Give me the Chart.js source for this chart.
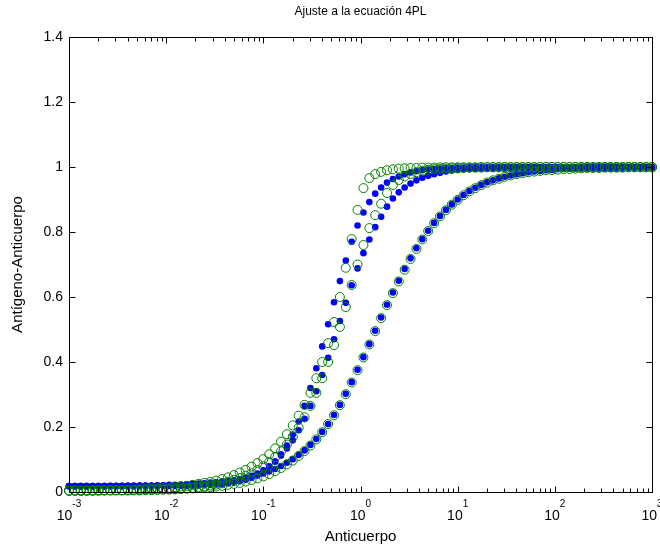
<!DOCTYPE html>
<html lang="es">
<head>
  <meta charset="UTF-8" />
  <title>Ajuste a la ecuación 4PL</title>
  <script src="https://cdn.jsdelivr.net/npm/chart.js@4.4.1/dist/chart.umd.min.js"></script>
  <style>
    html, body { margin: 0; padding: 0; background: #fff; }
    #grafico { display: block; }
  </style>
</head>
<body>
  <canvas id="grafico" width="660" height="546"></canvas>
  <script>
    // Anticuerpo (eje x, logarítmico)
    const anticuerpo = [
      0.001, 0.00115, 0.001322, 0.00152, 0.001748, 0.002009, 0.00231, 0.002656, 0.003054, 0.003511,
      0.004037, 0.004642, 0.005337, 0.006136, 0.007055, 0.008111, 0.009326, 0.01072, 0.01233, 0.01417,
      0.0163, 0.01874, 0.02154, 0.02477, 0.02848, 0.03275, 0.03765, 0.04329, 0.04977, 0.05722,
      0.06579, 0.07565, 0.08697, 0.1, 0.115, 0.1322, 0.152, 0.1748, 0.2009, 0.231,
      0.2656, 0.3054, 0.3511, 0.4037, 0.4642, 0.5337, 0.6136, 0.7055, 0.8111, 0.9326,
      1.072, 1.233, 1.417, 1.63, 1.874, 2.154, 2.477, 2.848, 3.275, 3.765,
      4.329, 4.977, 5.722, 6.579, 7.565, 8.697, 10, 11.5, 13.22, 15.2,
      17.48, 20.09, 23.1, 26.56, 30.54, 35.11, 40.37, 46.42, 53.37, 61.36,
      70.55, 81.11, 93.26, 107.2, 123.3, 141.7, 163, 187.4, 215.4, 247.7,
      284.8, 327.5, 376.5, 432.9, 497.7, 572.2, 657.9, 756.5, 869.7, 1000
    ];

    // datos (círculos verdes)
    const datosA = [
      0.004, 0.004, 0.004, 0.005, 0.005, 0.005, 0.005, 0.006, 0.006, 0.006,
      0.007, 0.007, 0.008, 0.009, 0.010, 0.011, 0.012, 0.013, 0.015, 0.017,
      0.019, 0.022, 0.025, 0.028, 0.031, 0.035, 0.040, 0.045, 0.052, 0.060,
      0.068, 0.078, 0.089, 0.101, 0.116, 0.134, 0.155, 0.178, 0.205, 0.235,
      0.268, 0.305, 0.350, 0.400, 0.458, 0.523, 0.600, 0.690, 0.778, 0.868,
      0.935, 0.966, 0.978, 0.985, 0.990, 0.993, 0.995, 0.996, 0.997, 0.997,
      0.998, 0.998, 0.998, 0.999, 0.999, 0.999, 0.999, 0.999, 0.999, 0.999,
      1.000, 1.000, 1.000, 1.000, 1.000, 1.000, 1.000, 1.000, 1.000, 1.000,
      1.000, 1.000, 1.000, 1.000, 1.000, 1.000, 1.000, 1.000, 1.000, 1.000,
      1.000, 1.000, 1.000, 1.000, 1.000, 1.000, 1.000, 1.000, 1.000, 1.000
    ];
    const datosB = [
      0.004, 0.004, 0.004, 0.004, 0.004, 0.005, 0.005, 0.005, 0.005, 0.005,
      0.005, 0.006, 0.006, 0.006, 0.007, 0.007, 0.008, 0.008, 0.009, 0.010,
      0.012, 0.013, 0.015, 0.017, 0.020, 0.023, 0.027, 0.032, 0.037, 0.043,
      0.050, 0.058, 0.068, 0.079, 0.092, 0.107, 0.125, 0.146, 0.170, 0.198,
      0.230, 0.265, 0.305, 0.350, 0.400, 0.452, 0.508, 0.569, 0.637, 0.700,
      0.760, 0.812, 0.852, 0.887, 0.920, 0.945, 0.960, 0.971, 0.978, 0.984,
      0.988, 0.991, 0.993, 0.994, 0.995, 0.996, 0.997, 0.997, 0.998, 0.998,
      0.998, 0.999, 0.999, 0.999, 0.999, 0.999, 0.999, 0.999, 0.999, 0.999,
      1.000, 1.000, 1.000, 1.000, 1.000, 1.000, 1.000, 1.000, 1.000, 1.000,
      1.000, 1.000, 1.000, 1.000, 1.000, 1.000, 1.000, 1.000, 1.000, 1.000
    ];
    const datosC = [
      0.004, 0.004, 0.004, 0.004, 0.004, 0.004, 0.005, 0.005, 0.005, 0.005,
      0.005, 0.005, 0.005, 0.006, 0.006, 0.007, 0.007, 0.008, 0.008, 0.009,
      0.010, 0.011, 0.012, 0.014, 0.015, 0.017, 0.019, 0.022, 0.025, 0.028,
      0.032, 0.037, 0.042, 0.048, 0.055, 0.064, 0.074, 0.085, 0.097, 0.111,
      0.126, 0.143, 0.162, 0.184, 0.209, 0.236, 0.267, 0.301, 0.337, 0.375,
      0.414, 0.454, 0.495, 0.535, 0.575, 0.612, 0.648, 0.684, 0.717, 0.748,
      0.777, 0.803, 0.827, 0.848, 0.867, 0.884, 0.899, 0.913, 0.925, 0.935,
      0.944, 0.952, 0.959, 0.964, 0.970, 0.974, 0.978, 0.981, 0.984, 0.986,
      0.988, 0.990, 0.991, 0.992, 0.994, 0.994, 0.995, 0.996, 0.997, 0.997,
      0.997, 0.998, 0.998, 0.998, 0.998, 0.999, 0.999, 0.999, 0.999, 0.999
    ];

    // ajuste 4PL (puntos azules)
    const ajusteA = [
      0.018, 0.018, 0.018, 0.018, 0.018, 0.018, 0.018, 0.018, 0.018, 0.018,
      0.018, 0.018, 0.018, 0.018, 0.018, 0.018, 0.019, 0.019, 0.019, 0.019,
      0.019, 0.020, 0.020, 0.021, 0.022, 0.023, 0.025, 0.027, 0.029, 0.033,
      0.038, 0.044, 0.052, 0.063, 0.076, 0.094, 0.116, 0.143, 0.177, 0.217,
      0.265, 0.320, 0.381, 0.448, 0.516, 0.584, 0.649, 0.712, 0.770, 0.820,
      0.860, 0.892, 0.918, 0.937, 0.952, 0.963, 0.971, 0.978, 0.983, 0.987,
      0.990, 0.992, 0.994, 0.995, 0.996, 0.997, 0.998, 0.998, 0.999, 0.999,
      0.999, 0.999, 0.999, 0.999, 0.999, 0.999, 0.999, 0.999, 0.999, 0.999,
      0.999, 0.999, 0.999, 0.999, 0.999, 0.999, 0.999, 0.999, 0.999, 0.999,
      0.999, 0.999, 0.999, 0.999, 0.999, 0.999, 0.999, 0.999, 0.999, 0.999
    ];
    const ajusteB = [
      0.018, 0.018, 0.018, 0.018, 0.018, 0.018, 0.018, 0.018, 0.018, 0.018,
      0.019, 0.019, 0.019, 0.019, 0.019, 0.019, 0.020, 0.020, 0.020, 0.020,
      0.021, 0.021, 0.022, 0.023, 0.024, 0.026, 0.028, 0.031, 0.034, 0.038,
      0.043, 0.050, 0.057, 0.067, 0.079, 0.094, 0.112, 0.134, 0.159, 0.190,
      0.225, 0.265, 0.310, 0.360, 0.413, 0.470, 0.526, 0.582, 0.636, 0.688,
      0.735, 0.777, 0.815, 0.847, 0.878, 0.903, 0.922, 0.937, 0.949, 0.959,
      0.967, 0.973, 0.978, 0.982, 0.986, 0.989, 0.991, 0.993, 0.994, 0.995,
      0.996, 0.997, 0.997, 0.998, 0.998, 0.998, 0.998, 0.999, 0.999, 0.999,
      0.999, 0.999, 0.999, 0.999, 0.999, 0.999, 0.999, 0.999, 0.999, 0.999,
      0.999, 0.999, 0.999, 0.999, 0.999, 0.999, 0.999, 0.999, 0.999, 0.999
    ];
    const ajusteC = [
      0.018, 0.018, 0.018, 0.018, 0.018, 0.018, 0.018, 0.019, 0.019, 0.019,
      0.019, 0.019, 0.020, 0.020, 0.020, 0.021, 0.021, 0.022, 0.022, 0.023,
      0.024, 0.025, 0.026, 0.027, 0.029, 0.030, 0.032, 0.034, 0.036, 0.039,
      0.042, 0.046, 0.051, 0.057, 0.063, 0.071, 0.080, 0.090, 0.101, 0.114,
      0.128, 0.145, 0.163, 0.185, 0.209, 0.237, 0.268, 0.302, 0.338, 0.376,
      0.415, 0.455, 0.496, 0.537, 0.576, 0.614, 0.650, 0.686, 0.719, 0.750,
      0.778, 0.804, 0.828, 0.849, 0.868, 0.885, 0.900, 0.914, 0.926, 0.936,
      0.945, 0.953, 0.959, 0.965, 0.970, 0.974, 0.978, 0.981, 0.984, 0.986,
      0.988, 0.990, 0.991, 0.993, 0.994, 0.995, 0.995, 0.996, 0.997, 0.997,
      0.998, 0.998, 0.998, 0.998, 0.999, 0.999, 0.999, 0.999, 0.999, 0.999
    ];

    // ticks
    const yTicks = [0, 0.2, 0.4, 0.6, 0.8, 1, 1.2, 1.4];
    const yTickLabels = ['0', '0.2', '0.4', '0.6', '0.8', '1', '1.2', '1.4'];
    const xDecadas = [-3, -2, -1, 0, 1, 2, 3];
    const xMenores = [2, 3, 4, 5, 6, 7, 8, 9];

    const fuente = '"Liberation Sans", Arial, Helvetica, sans-serif';

    function puntos(ys) {
      return anticuerpo.map((x, i) => ({ x: x, y: ys[i] }));
    }

    // caja, ticks y textos estilo MATLAB
    const marco = {
      id: 'marco',
      afterDraw(chart) {
        const ctx = chart.ctx;
        const a = chart.chartArea;
        const sx = chart.scales.x, sy = chart.scales.y;
        const L = Math.round(a.left) + 0.5, R = Math.round(a.right) + 0.5;
        const T = Math.round(a.top) + 0.5, B = Math.round(a.bottom) + 0.5;
        ctx.save();
        ctx.strokeStyle = '#000';
        ctx.lineWidth = 1;
        ctx.strokeRect(L, T, R - L, B - T);

        ctx.beginPath();
        // y ticks
        yTicks.forEach(v => {
          const py = Math.round(sy.getPixelForValue(v)) + 0.5;
          ctx.moveTo(L, py); ctx.lineTo(L + 6, py);
          ctx.moveTo(R, py); ctx.lineTo(R - 6, py);
        });
        // x ticks
        xDecadas.forEach((d, i) => {
          const px = Math.round(sx.getPixelForValue(Math.pow(10, d))) + 0.5;
          ctx.moveTo(px, B); ctx.lineTo(px, B - 6);
          ctx.moveTo(px, T); ctx.lineTo(px, T + 6);
          if (i < xDecadas.length - 1) {
            xMenores.forEach(m => {
              const qx = Math.round(sx.getPixelForValue(m * Math.pow(10, d))) + 0.5;
              ctx.moveTo(qx, B); ctx.lineTo(qx, B - 4);
              ctx.moveTo(qx, T); ctx.lineTo(qx, T + 4);
            });
          }
        });
        ctx.stroke();

        ctx.fillStyle = '#000';
        // y labels
        ctx.font = '14px ' + fuente;
        ctx.textAlign = 'right';
        ctx.textBaseline = 'middle';
        yTicks.forEach((v, i) => {
          ctx.fillText(yTickLabels[i], a.left - 6, sy.getPixelForValue(v));
        });
        // x labels 10^n
        xDecadas.forEach(d => {
          const px = sx.getPixelForValue(Math.pow(10, d));
          ctx.font = '14px ' + fuente;
          const wb = ctx.measureText('10').width;
          ctx.font = '10px ' + fuente;
          const we = ctx.measureText(String(d)).width;
          const x0 = px - (wb + we) / 2;
          ctx.textAlign = 'left';
          ctx.textBaseline = 'alphabetic';
          ctx.font = '14px ' + fuente;
          ctx.fillText('10', x0, a.bottom + 28);
          ctx.font = '10px ' + fuente;
          ctx.fillText(String(d), x0 + wb, a.bottom + 15);
        });
        // titles
        const cx = (a.left + a.right) / 2;
        ctx.textAlign = 'center';
        ctx.textBaseline = 'middle';
        ctx.font = '12px ' + fuente;
        ctx.fillText('Ajuste a la ecuación 4PL', cx, 12);
        ctx.font = '15px ' + fuente;
        ctx.fillText('Anticuerpo', cx, 537);
        ctx.translate(18, (a.top + a.bottom) / 2);
        ctx.rotate(-Math.PI / 2);
        ctx.fillText('Antígeno-Anticuerpo', 0, 0);
        ctx.restore();
      }
    };

    function serieDatos(ys) {
      return { data: puntos(ys), pointStyle: 'circle', pointRadius: 4.5, pointBorderWidth: 1,
        pointBorderColor: '#008000', pointBackgroundColor: 'rgba(0,0,0,0)', showLine: false, clip: false, order: 1 };
    }
    function serieAjuste(ys) {
      return { data: puntos(ys), pointStyle: 'circle', pointRadius: 3.3, pointBorderWidth: 0,
        pointBorderColor: '#0000ff', pointBackgroundColor: '#0000ff', showLine: false, clip: false, order: 2 };
    }

    new Chart(document.getElementById('grafico'), {
      type: 'scatter',
      data: {
        datasets: [
          serieDatos(datosA), serieDatos(datosB), serieDatos(datosC),
          serieAjuste(ajusteA), serieAjuste(ajusteB), serieAjuste(ajusteC)
        ]
      },
      options: {
        responsive: false,
        animation: false,
        devicePixelRatio: 1,
        layout: { padding: { left: 69, right: 8, top: 37, bottom: 54 } },
        plugins: { legend: { display: false }, tooltip: { enabled: false } },
        elements: { point: { hoverRadius: 4.5 } },
        scales: {
          x: { type: 'logarithmic', display: false, min: 0.001, max: 1000 },
          y: { type: 'linear', display: false, min: 0, max: 1.4 }
        }
      },
      plugins: [marco]
    });
  </script>
</body>
</html>
